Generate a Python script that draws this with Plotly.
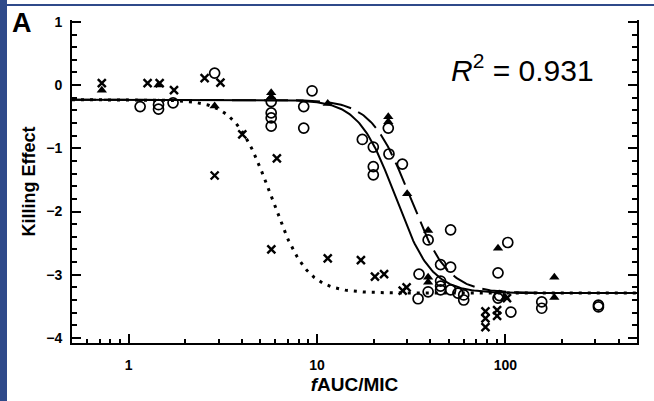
import numpy as np
import plotly.graph_objects as go

# --- data ---
cross_x = [0.72, 1.26, 1.46, 1.74, 2.53, 3.07, 2.86, 4.01, 6.12, 5.72,
           11.4, 17.1, 20.3, 22.7, 29.9, 28.5, 78.4, 78.4, 78.4, 90.4, 90.4, 102]
cross_y = [0.03, 0.03, 0.03, -0.08, 0.11, 0.04, -1.43, -0.78, -1.16, -2.6,
           -2.74, -2.77, -3.03, -2.99, -3.2, -3.25, -3.58, -3.69, -3.83, -3.56, -3.65, -3.37]

circle_x = [1.15, 1.44, 1.44, 1.72, 2.86, 5.71, 5.71, 5.71, 5.71, 8.5, 8.5, 9.41,
            17.4, 19.9, 19.9, 19.9, 24.1, 28.4, 23.9, 38.9, 51.2, 45.3, 51.2,
            34.8, 34.4, 38.9, 45.3, 45.3, 45.3, 51.2, 56, 60.1, 60.1,
            91.4, 103, 91.4, 93, 107, 156, 156, 312, 312]
circle_y = [-0.34, -0.31, -0.38, -0.28, 0.19, -0.26, -0.44, -0.52, -0.65, -0.34, -0.68, -0.09,
            -0.86, -0.98, -1.29, -1.42, -1.09, -1.25, -0.68, -2.45, -2.29, -2.84, -2.88,
            -2.99, -3.38, -3.27, -3.1, -3.18, -3.24, -3.24, -3.29, -3.32, -3.4,
            -2.97, -2.49, -3.37, -3.33, -3.59, -3.43, -3.53, -3.48, -3.51]

tri_x = [0.72, 1.44, 2.86, 5.71, 5.71, 11.4, 23.9, 23.9, 30.1, 38.9, 38.9, 38.9, 91.4, 100, 182, 182]
tri_y = [-0.08, 0.0, -0.33, -0.12, -0.19, -0.29, -0.5, -0.58, -1.72, -2.3, -3.04, -3.12, -2.58, -3.36, -3.04, -3.36]

# fitted sigmoid Emax models: top, bottom, EC50, Hill slope
top = -0.23
bottom = -3.29
ec50_dot, h_dot = 5.7, 4.6
ec50_solid, h_solid = 26.0, 4.5
ec50_dash, h_dash = 31.0, 4.3

xs = np.logspace(np.log10(0.5), np.log10(500), 400)


def emax(x, ec50, h):
    return top + (bottom - top) * x ** h / (x ** h + ec50 ** h)


fig = go.Figure()
fig.add_trace(go.Scatter(x=xs, y=emax(xs, ec50_dot, h_dot), mode="lines",
                         line=dict(color="black", width=3, dash="3px,6px"),
                         hoverinfo="skip"))
fig.add_trace(go.Scatter(x=xs, y=emax(xs, ec50_solid, h_solid), mode="lines",
                         line=dict(color="black", width=2), hoverinfo="skip"))
fig.add_trace(go.Scatter(x=xs, y=emax(xs, ec50_dash, h_dash), mode="lines",
                         line=dict(color="black", width=2, dash="24px,8px"),
                         hoverinfo="skip"))
fig.add_trace(go.Scatter(x=circle_x, y=circle_y, mode="markers",
                         marker=dict(symbol="circle-open", size=10, color="black",
                                     line=dict(width=1.7, color="black"))))
fig.add_trace(go.Scatter(x=cross_x, y=cross_y, mode="markers",
                         marker=dict(symbol="x-thin-open", size=8, color="black",
                                     line=dict(width=2.4, color="black"))))
fig.add_trace(go.Scatter(x=tri_x, y=tri_y, mode="markers",
                         marker=dict(symbol="triangle-up", size=9, color="black",
                                     line=dict(width=0))))

font_main = "Liberation Sans, Arial, sans-serif"
axis_common = dict(showline=True, linecolor="black", linewidth=2, ticks="inside",
                   tickcolor="black", tickwidth=2, showgrid=False, zeroline=False,
                   automargin=False,
                   tickfont=dict(family=font_main, size=14, color="black", weight="bold"))

x_minor = [0.6, 0.7, 0.8, 0.9, 2, 3, 4, 5, 6, 7, 8, 9, 20, 30, 40, 50, 60, 70, 80, 90,
           200, 300, 400, 500]

fig.update_xaxes(type="log", range=[np.log10(0.5), np.log10(500)],
                 tickvals=[1, 10, 100], ticktext=["1", "10", "100"], ticklen=9,
                 ticklabelstandoff=8,
                 minor=dict(tickvals=x_minor, ticks="inside", ticklen=4, tickwidth=1.5,
                            tickcolor="black"),
                 title=dict(text="<i>f</i>AUC/MIC", standoff=6,
                            font=dict(family=font_main, size=19, color="black", weight="bold")),
                 **axis_common)
fig.update_yaxes(range=[-4.08, 1.03], tickvals=[-4, -3, -2, -1, 0, 1], ticklen=9,
                 ticklabelstandoff=5, mirror="ticks",
                 minor=dict(dtick=0.2, ticks="inside", ticklen=5, tickwidth=1.5,
                            tickcolor="black"),
                 title=dict(text="Killing Effect", standoff=6,
                            font=dict(family=font_main, size=18, color="black", weight="bold")),
                 **axis_common)

blue = "#2f4a8a"
fig.update_layout(
    width=654, height=401, showlegend=False,
    margin=dict(l=72, r=17, t=20, b=58),
    paper_bgcolor="white", plot_bgcolor="white",
    shapes=[
        dict(type="rect", xref="paper", yref="paper", x0=-72 / 565, x1=-65 / 565,
             y0=-58 / 323, y1=381 / 323, fillcolor=blue, line=dict(width=0), layer="above"),
        dict(type="line", xref="paper", yref="paper", x0=-65 / 565, x1=582 / 565,
             y0=(343 - 5) / 323, y1=(343 - 5) / 323, line=dict(color=blue, width=2)),
    ],
    annotations=[
        dict(text="<b>A</b>", xref="paper", yref="paper", x=-62 / 565, y=(343 - 23) / 323,
             xanchor="left", yanchor="middle", showarrow=False,
             font=dict(family=font_main, size=27, color="black")),
        dict(text="<i>R</i><sup>2</sup> = 0.931", xref="paper", yref="paper",
             x=(522 - 72) / 565, y=(343 - 68) / 323, xanchor="center", yanchor="middle",
             showarrow=False, font=dict(family=font_main, size=30, color="black")),
    ],
)

fig.write_html("out.html")
